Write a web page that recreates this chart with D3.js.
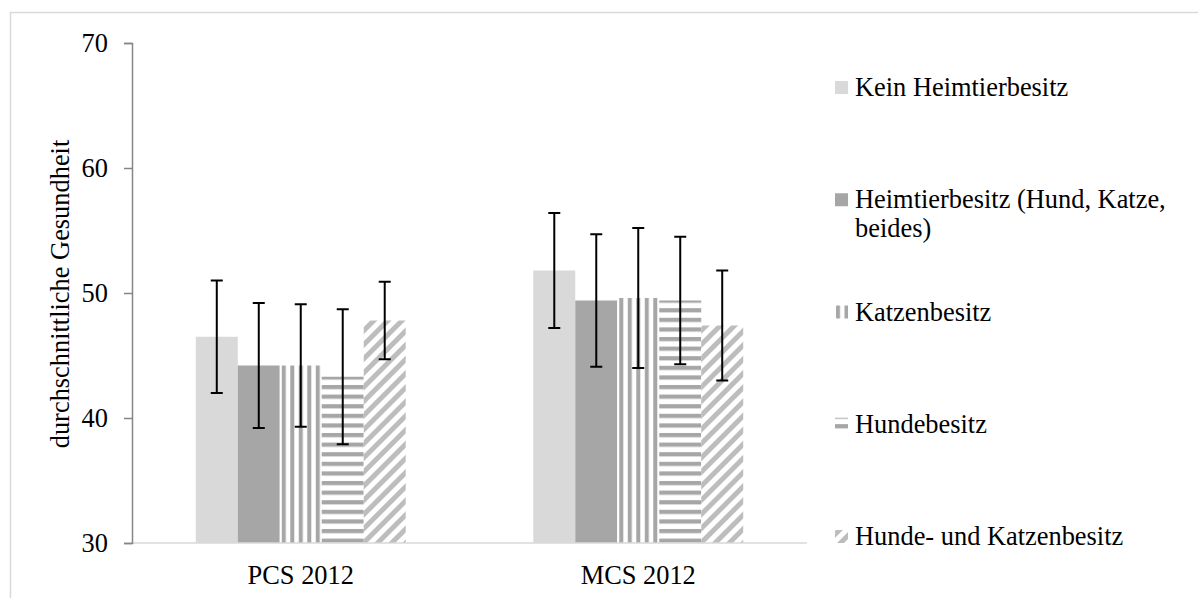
<!DOCTYPE html>
<html>
  <head>
    <meta charset="utf-8">
    <title>Gesundheit nach Heimtierbesitz</title>
    <style>
      body { margin: 0; background: #fff; }
      text { font-family: 'Liberation Serif', 'Times New Roman', serif; fill: #000; }
    </style>
  </head>
  <body>
    <svg id='chart'></svg>
  </body>
  <script type="text/javascript" src="https://cdn.jsdelivr.net/npm/d3@7"></script>
  <script type="text/javascript">
    // Daten
    const categories = ['PCS 2012', 'MCS 2012'];
    const seriesNames = [
      'Kein Heimtierbesitz',
      'Heimtierbesitz (Hund, Katze, beides)',
      'Katzenbesitz',
      'Hundebesitz',
      'Hunde- und Katzenbesitz'
    ];
    const legendLines = [
      ['Kein Heimtierbesitz'],
      ['Heimtierbesitz (Hund, Katze,', 'beides)'],
      ['Katzenbesitz'],
      ['Hundebesitz'],
      ['Hunde- und Katzenbesitz']
    ];
    const keinMeans = [46.5, 51.8];
    const heimMeans = [44.2, 49.4];
    const katzeMeans = [44.2, 49.6];
    const hundMeans = [43.3, 49.4];
    const beideMeans = [47.8, 47.4];
    const keinErr = [4.5, 4.6];
    const heimErr = [5.0, 5.3];
    const katzeErr = [4.9, 5.6];
    const hundErr = [5.4, 5.1];
    const beideErr = [3.1, 4.4];
    const yTicks = [30, 40, 50, 60, 70];

    const means = [keinMeans, heimMeans, katzeMeans, hundMeans, beideMeans];
    const errs = [keinErr, heimErr, katzeErr, hundErr, beideErr];

    const [width, height] = [1198, 598];
    const fontSize = '26.4px';
    const svg = d3.select('#chart')
      .attr('width', width)
      .attr('height', height);

    // Rahmen des Diagrammbereichs
    svg.append('rect')
      .attr('x', 10.5).attr('y', 12.5)
      .attr('width', 1300).attr('height', 700)
      .attr('fill', 'none')
      .attr('stroke', '#d9d9d9')
      .attr('stroke-width', 1.5);

    // Muster
    const defs = svg.append('defs');
    const vert = defs.append('pattern')
      .attr('id', 'p-vert').attr('patternUnits', 'userSpaceOnUse')
      .attr('width', 8.5).attr('height', 10);
    vert.append('rect').attr('width', 8.5).attr('height', 10).attr('fill', '#fff');
    vert.append('rect').attr('x', 1).attr('width', 4).attr('height', 10).attr('fill', '#a6a6a6');

    const hor = defs.append('pattern')
      .attr('id', 'p-hor').attr('patternUnits', 'userSpaceOnUse')
      .attr('width', 10).attr('height', 9.6);
    hor.append('rect').attr('width', 10).attr('height', 9.6).attr('fill', '#fff');
    hor.append('rect').attr('y', 1).attr('width', 10).attr('height', 4.2).attr('fill', '#a6a6a6');

    const diag = defs.append('pattern')
      .attr('id', 'p-diag').attr('patternUnits', 'userSpaceOnUse')
      .attr('width', 10).attr('height', 10)
      .attr('patternTransform', 'rotate(45)');
    diag.append('rect').attr('width', 10).attr('height', 10).attr('fill', '#fff');
    diag.append('rect').attr('width', 5).attr('height', 10).attr('fill', '#bdbdbd');

    const fills = ['#d9d9d9', '#a6a6a6', 'url(#p-vert)', 'url(#p-hor)', 'url(#p-diag)'];

    // Skalen
    const y = d3.scaleLinear().domain([30, 70]).range([543, 43]);
    const x0 = d3.scaleBand().domain(categories).range([132, 807])
      .paddingInner(0.378).paddingOuter(0.189);
    const x1 = d3.scaleBand().domain(d3.range(seriesNames.length))
      .range([0, x0.bandwidth()]);

    // Balken
    const groups = svg.append('g')
      .selectAll('g')
      .data(categories)
      .enter()
      .append('g')
      .attr('transform', d => 'translate(' + x0(d) + ',0)');

    const barData = (c, ci) => seriesNames.map((s, si) => ({
      si: si, v: means[si][ci], e: errs[si][ci]
    }));

    groups.selectAll('rect')
      .data(barData)
      .enter()
      .append('rect')
      .attr('x', d => x1(d.si))
      .attr('width', x1.bandwidth())
      .attr('y', d => y(d.v))
      .attr('height', d => y(30) - y(d.v))
      .attr('fill', d => fills[d.si]);

    // x-Achse (Linie)
    svg.append('line')
      .attr('x1', 132).attr('x2', 807)
      .attr('y1', y(30)).attr('y2', y(30))
      .attr('stroke', '#d9d9d9').attr('stroke-width', 1.5);

    // Fehlerbalken
    const eb = groups.selectAll('g.err')
      .data(barData)
      .enter()
      .append('g')
      .attr('class', 'err')
      .attr('stroke', '#000')
      .attr('stroke-width', 2);
    eb.append('line')
      .attr('x1', d => x1(d.si) + x1.bandwidth() / 2)
      .attr('x2', d => x1(d.si) + x1.bandwidth() / 2)
      .attr('y1', d => y(d.v + d.e))
      .attr('y2', d => y(d.v - d.e));
    eb.selectAll('line.cap')
      .data(d => [d.v + d.e, d.v - d.e].map(v => ({ si: d.si, v: v })))
      .enter()
      .append('line')
      .attr('class', 'cap')
      .attr('x1', d => x1(d.si) + x1.bandwidth() / 2 - 6)
      .attr('x2', d => x1(d.si) + x1.bandwidth() / 2 + 6)
      .attr('y1', d => y(d.v))
      .attr('y2', d => y(d.v));

    // y-Achse
    const yAxis = svg.append('g')
      .attr('transform', 'translate(132,0)')
      .call(d3.axisLeft(y).tickValues(yTicks).tickSize(8).tickPadding(16).tickFormat(d3.format('d')));
    yAxis.select('.domain').attr('stroke', '#868686').attr('stroke-width', 1.5);
    yAxis.selectAll('.tick line').attr('stroke', '#868686').attr('stroke-width', 1.5);
    yAxis.selectAll('.tick text')
      .style('font-size', fontSize)
      .style('font-family', "'Liberation Serif', serif")
      .attr('fill', '#000');

    // x-Beschriftung
    svg.append('g')
      .selectAll('text')
      .data(categories)
      .enter()
      .append('text')
      .attr('x', d => x0(d) + x0.bandwidth() / 2)
      .attr('y', 584)
      .attr('text-anchor', 'middle')
      .style('font-size', fontSize)
      .text(d => d);

    // Achsentitel
    svg.append('text')
      .attr('transform', 'translate(69,294) rotate(-90)')
      .attr('text-anchor', 'middle')
      .style('font-size', fontSize)
      .text('durchschnittliche Gesundheit');

    // Legende
    const legend = svg.append('g')
      .selectAll('g')
      .data(seriesNames)
      .enter()
      .append('g')
      .attr('transform', (d, i) => 'translate(835,' + (96 + i * 112.25) + ')');

    legend.append('rect')
      .attr('y', -15)
      .attr('width', 13)
      .attr('height', 13)
      .attr('fill', (d, i) => fills[i]);

    legend.append('text')
      .attr('x', 20)
      .style('font-size', fontSize)
      .selectAll('tspan')
      .data((d, i) => legendLines[i])
      .enter()
      .append('tspan')
      .attr('x', 20)
      .attr('dy', (d, j) => j === 0 ? 0 : 29)
      .text(d => d);
  </script>
</html>
